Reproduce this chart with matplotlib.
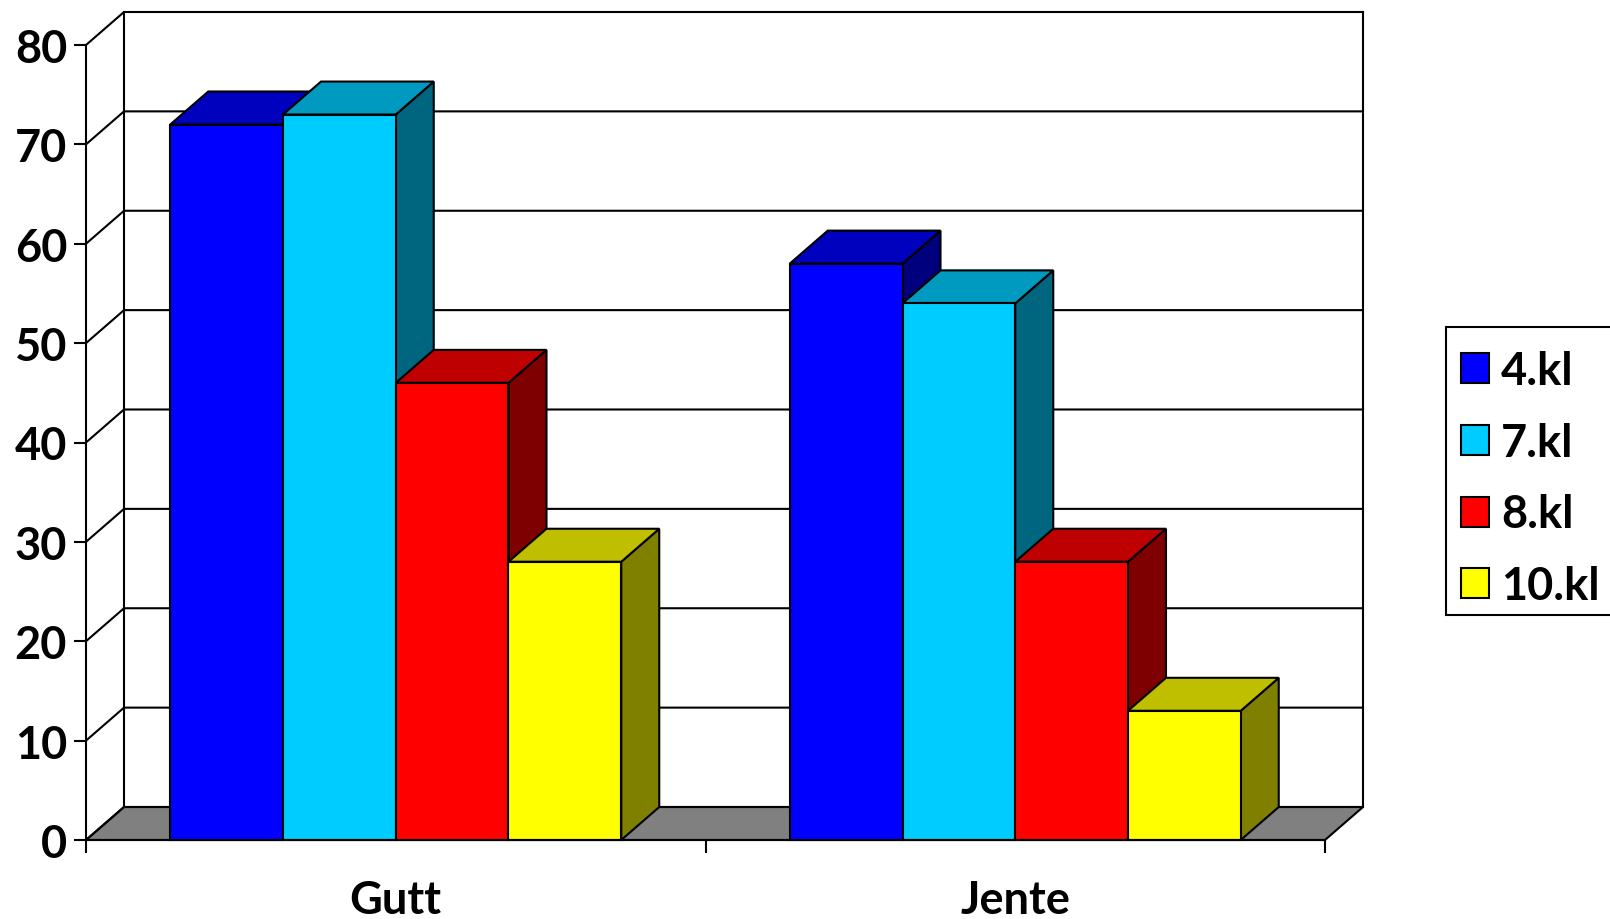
import matplotlib
matplotlib.use("Agg")
import matplotlib.pyplot as plt
from matplotlib.patches import Patch, Polygon, Rectangle

categories = ["Gutt", "Jente"]
series_names = ["4.kl", "7.kl", "8.kl", "10.kl"]
values_4kl = [72, 58]
values_7kl = [73, 54]
values_8kl = [46, 28]
values_10kl = [28, 13]
series_values = [values_4kl, values_7kl, values_8kl, values_10kl]
front_colors = ["#0000FF", "#00CCFF", "#FF0000", "#FFFF00"]
top_colors = ["#0000BF", "#0099BF", "#BF0000", "#BFBF00"]
side_colors = ["#00007F", "#006680", "#7F0000", "#808000"]
y_ticks = list(range(0, 90, 10))

W, H = 1610, 920
LEFT, RIGHT, BOTTOM, TOP = 86, 1325, 841, 46
FONT = "Lato"
FS = 32.5
LW = 1.5

fig = plt.figure(figsize=(W / 100, H / 100), dpi=100, facecolor="white")
ax = fig.add_axes([LEFT / W, 1 - BOTTOM / H, (RIGHT - LEFT) / W, (BOTTOM - TOP) / H])
ax.set_xlim(0, 2)
ax.set_ylim(0, 80)
ax.patch.set_visible(False)

# depth of the 3-D box in data units
DX = 38 / (RIGHT - LEFT) * 2
DY = 33 / (BOTTOM - TOP) * 80
BAR_W = 0.182


def poly(pts, fc, z):
    ax.add_patch(Polygon(pts, closed=True, facecolor=fc, edgecolor="black",
                         linewidth=LW, joinstyle="miter", clip_on=False, zorder=z))


def line(xs, ys, z=1):
    ax.plot(xs, ys, color="black", linewidth=LW, clip_on=False, zorder=z,
            solid_capstyle="projecting")


# floor
poly([(0, 0), (2, 0), (2 + DX, DY), (DX, DY)], "#808080", 1)
# walls and gridlines
for t in y_ticks:
    line([0, DX, 2 + DX], [t, t + DY, t + DY])
line([DX, DX], [DY, 80 + DY])
line([2 + DX, 2 + DX], [DY, 80 + DY])

# bars
z = 3
for c in range(len(categories)):
    center = c + 0.5
    n = len(series_names)
    for s in range(n):
        v = series_values[s][c]
        x0 = center + (s - n / 2) * BAR_W
        x1 = x0 + BAR_W
        poly([(x1, 0), (x1 + DX, DY), (x1 + DX, v + DY), (x1, v)], side_colors[s], z)
        poly([(x0, v), (x1, v), (x1 + DX, v + DY), (x0 + DX, v + DY)], top_colors[s], z)
        ax.bar(x0, v, width=BAR_W, align="edge", color=front_colors[s], edgecolor="black",
               linewidth=LW, clip_on=False, zorder=z)
        z += 1

# axes
for name in ("top", "right"):
    ax.spines[name].set_visible(False)
for name in ("left", "bottom"):
    ax.spines[name].set_linewidth(LW)
    ax.spines[name].set_zorder(50)
ax.set_yticks(y_ticks)
ax.set_xticks([0, 1, 2])
ax.set_xticklabels([])
ax.set_xticks([0.5, 1.5], minor=True)
ax.set_xticklabels(categories, minor=True)
ax.tick_params(axis="y", length=8.6, width=LW, pad=5)
ax.tick_params(axis="x", which="major", length=9.4, width=LW)
ax.tick_params(axis="x", which="minor", length=0, pad=28)
for lab in ax.get_yticklabels() + ax.get_xticklabels(minor=True):
    lab.set_fontfamily(FONT)
    lab.set_fontweight("bold")
    lab.set_fontsize(FS)

# legend frame, running past the right edge of the picture
fig.add_artist(Rectangle((1446 / W, 1 - 616 / H), 200 / W, 288 / H, transform=fig.transFigure,
                         facecolor="white", edgecolor="black", linewidth=LW, clip_on=True))

# legend
handles = [Patch(facecolor=fc, edgecolor="black", linewidth=LW) for fc in front_colors]
leg = fig.legend(handles, series_names, loc="upper left",
                 bbox_to_anchor=(1446 / W, 1 - 336 / H), bbox_transform=fig.transFigure,
                 borderaxespad=0, borderpad=0.33, labelspacing=0.66, handlelength=0.62,
                 handleheight=0.64, handletextpad=0.27, frameon=False,
                 prop={"family": FONT, "weight": "bold", "size": FS})

fig.savefig("out.png", dpi=100, facecolor="white")
